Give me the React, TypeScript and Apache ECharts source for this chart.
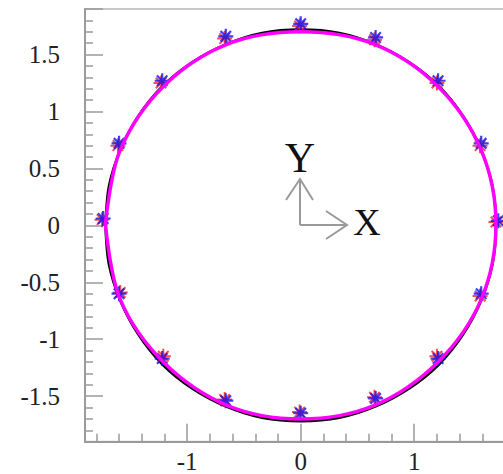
import React, { useEffect, useRef } from "react";
import * as echarts from "echarts";

// Black reference circle (32 vertices, drawn smooth)
const circleX = [-1.72, -1.69, -1.59, -1.43, -1.22, -0.96, -0.66, -0.34, 0, 0.34, 0.66, 0.96, 1.22, 1.43, 1.59, 1.69, 1.72, 1.69, 1.59, 1.43, 1.22, 0.96, 0.66, 0.34, 0, -0.34, -0.66, -0.96, -1.22, -1.43, -1.59, -1.69, -1.72];
const circleY = [0, 0.34, 0.66, 0.96, 1.22, 1.43, 1.59, 1.69, 1.72, 1.69, 1.59, 1.43, 1.22, 0.96, 0.66, 0.34, 0, -0.34, -0.66, -0.96, -1.22, -1.43, -1.59, -1.69, -1.72, -1.69, -1.59, -1.43, -1.22, -0.96, -0.66, -0.34, 0];

// Magenta computed contour
const lineX = [-1.72, -1.59, -1.21, -0.65, 0, 0.65, 1.21, 1.59, 1.72, 1.59, 1.21, 0.65, 0, -0.65, -1.21, -1.59, -1.72];
const lineY = [0.01, 0.66, 1.22, 1.59, 1.7, 1.59, 1.22, 0.66, 0.01, -0.65, -1.2, -1.58, -1.7, -1.58, -1.2, -0.65, 0.01];

// Blue asterisks
const blueX = [0, 0.66, 1.21, 1.59, 1.74, 1.59, 1.21, 0.66, 0, -0.66, -1.22, -1.6, -1.74, -1.6, -1.22, -0.66];
const blueY = [1.77, 1.65, 1.27, 0.72, 0.04, -0.6, -1.17, -1.52, -1.65, -1.54, -1.17, -0.6, 0.06, 0.72, 1.27, 1.66];

// Red asterisks
const redX = [-0.01, 0.65, 1.2, 1.58, 1.72, 1.58, 1.2, 0.65, -0.01, -0.67, -1.21, -1.59, -1.75, -1.61, -1.23, -0.67];
const redY = [1.75, 1.63, 1.25, 0.7, 0.03, -0.62, -1.15, -1.51, -1.64, -1.53, -1.15, -0.59, 0.05, 0.7, 1.25, 1.64];

const xTickLabels = ["-1", "0", "1"];
const yTickLabels = ["-1.5", "-1", "-0.5", "0", "0.5", "1", "1.5"];

const zip = (xs: number[], ys: number[]) => xs.map((x, i) => [x, ys[i]]);

const ASTERISK =
  "path://M0,-10L0,10M-10,0L10,0M-7,-7L7,7M-7,7L7,-7";

export default function App() {
  const ref = useRef<HTMLDivElement>(null);
  useEffect(() => {
    if (!ref.current) return;
    const chart = echarts.init(ref.current, null, { renderer: "svg" });
    const axisGray = "#9a9a9a";
    const labelFont = {
      fontFamily: "Liberation Serif",
      fontSize: 25,
      color: "#222",
    };
    chart.setOption({
      animation: false,
      backgroundColor: "#ffffff",
      grid: {
        left: 85,
        top: 9,
        right: -13.4,
        bottom: 32.3,
        show: true,
        borderColor: "#c8c8c8",
        borderWidth: 2,
        outerBoundsMode: "none",
        containLabel: false,
      },
      xAxis: {
        type: "value",
        min: -1.9,
        max: 1.9,
        splitNumber: 5,
        splitLine: { show: false },
        axisLine: { show: true, onZero: false, lineStyle: { color: axisGray, width: 2 } },
        axisTick: { show: true, inside: true, length: 18, lineStyle: { color: axisGray, width: 1.5 } },
        minorTick: { show: true, splitNumber: 5, length: 8, lineStyle: { color: axisGray, width: 1.5 } },
        axisLabel: {
          ...labelFont,
          margin: 7,
          showMinLabel: false,
          showMaxLabel: false,
          formatter: (v: number) => {
            const s = String(Math.round(v * 10) / 10);
            return xTickLabels.includes(s) ? s : "";
          },
        },
      },
      yAxis: {
        type: "value",
        min: -1.9,
        max: 1.9,
        splitNumber: 8,
        splitLine: { show: false },
        axisLine: { show: true, onZero: false, lineStyle: { color: axisGray, width: 2 } },
        axisTick: { show: true, inside: true, length: 18, lineStyle: { color: axisGray, width: 1.5 } },
        minorTick: { show: true, splitNumber: 5, length: 8, lineStyle: { color: axisGray, width: 1.5 } },
        axisLabel: {
          ...labelFont,
          margin: 25,
          showMinLabel: false,
          showMaxLabel: false,
          formatter: (v: number) => {
            const s = String(Math.round(v * 10) / 10);
            return yTickLabels.includes(s) ? s : "";
          },
        },
      },
      series: [
        {
          type: "line",
          data: zip(circleX, circleY),
          smooth: 0.3,
          symbol: "none",
          lineStyle: { color: "#000000", width: 2.5 },
          z: 1,
        },
        {
          type: "scatter",
          data: zip(redX, redY),
          symbol: ASTERISK,
          symbolSize: 15,
          itemStyle: { color: "none", borderColor: "#ff2020", borderWidth: 2 },
          z: 2,
        },
        {
          type: "scatter",
          data: zip(blueX, blueY),
          symbol: ASTERISK,
          symbolSize: 15,
          itemStyle: { color: "none", borderColor: "#1010ee", borderWidth: 2.2 },
          z: 3,
        },
        {
          type: "line",
          data: zip(lineX, lineY),
          smooth: 0.35,
          symbol: "none",
          lineStyle: { color: "#ff00ff", width: 3.5 },
          z: 4,
        },
      ],
      graphic: [
        {
          type: "line",
          shape: { x1: 300, y1: 179, x2: 300, y2: 225 },
          style: { stroke: "#9a9a9a", lineWidth: 2 },
        },
        {
          type: "line",
          shape: { x1: 300, y1: 225, x2: 347, y2: 225 },
          style: { stroke: "#9a9a9a", lineWidth: 2 },
        },
        {
          type: "polyline",
          shape: { points: [[286, 200], [300, 179], [313, 200]] },
          style: { stroke: "#9a9a9a", lineWidth: 2, fill: "none" },
        },
        {
          type: "polyline",
          shape: { points: [[326, 211], [347, 225], [326, 239]] },
          style: { stroke: "#9a9a9a", lineWidth: 2, fill: "none" },
        },
        {
          type: "text",
          x: 300,
          y: 158,
          style: {
            text: "Y",
            font: "42px 'Liberation Serif'",
            fill: "#111",
            align: "center",
            verticalAlign: "middle",
          },
        },
        {
          type: "text",
          x: 367,
          y: 222,
          style: {
            text: "X",
            font: "38px 'Liberation Serif'",
            fill: "#111",
            align: "center",
            verticalAlign: "middle",
          },
        },
      ],
    });
    return () => chart.dispose();
  }, []);
  return (
    <div
      ref={ref}
      style={{ position: "absolute", left: 0, top: 0, width: 503, height: 474 }}
    />
  );
}
